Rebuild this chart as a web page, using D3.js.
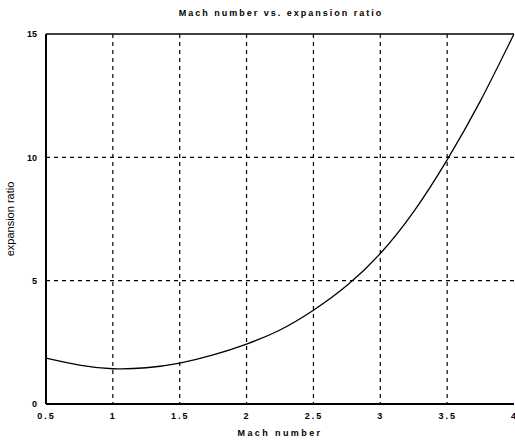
<!DOCTYPE html>
<html>
<head>
<meta charset="utf-8">
<script src="https://cdn.jsdelivr.net/npm/d3@7"></script>
<style>
  body { margin: 0; background: #fff; }
  text { font-family: "Liberation Sans", Arial, sans-serif; fill: #000; }
</style>
</head>
<body>
<svg id="chart" width="515" height="440"></svg>
<script>
// values
var machNumbers = [0.5, 0.75, 1, 1.25, 1.5, 1.75, 2, 2.25, 2.5, 2.75, 3, 3.25, 3.5, 3.75, 4];
var expansionRatios = [1.86, 1.58, 1.43, 1.47, 1.66, 1.99, 2.43, 3.0, 3.8, 4.8, 6.1, 7.8, 9.9, 12.3, 15];
var xTicks = [0.5, 1, 1.5, 2, 2.5, 3, 3.5, 4];
var yTicks = [0, 5, 10, 15];

var svg = d3.select("#chart");
var margin = { left: 46, right: 1, top: 34, bottom: 36 };
var width = 515 - margin.left - margin.right;
var height = 440 - margin.top - margin.bottom;

var x = d3.scaleLinear().domain([0.5, 4]).range([0, width]);
var y = d3.scaleLinear().domain([0, 15]).range([height, 0]);

var g = svg.append("g").attr("transform", "translate(" + margin.left + "," + margin.top + ")");

// grid
g.append("g").selectAll("line").data(xTicks.slice(1, -1)).enter().append("line")
    .attr("x1", function(d) { return x(d); })
    .attr("x2", function(d) { return x(d); })
    .attr("y1", 0).attr("y2", height)
    .attr("stroke", "#000").attr("stroke-width", 1.2)
    .attr("stroke-dasharray", "4,4");
g.append("g").selectAll("line").data(yTicks.slice(1, -1)).enter().append("line")
    .attr("y1", function(d) { return y(d); })
    .attr("y2", function(d) { return y(d); })
    .attr("x1", 0).attr("x2", width)
    .attr("stroke", "#000").attr("stroke-width", 1.2)
    .attr("stroke-dasharray", "4,4");

// axes
var xAxis = d3.axisBottom(x).tickValues(xTicks).tickSize(0).tickPadding(9)
    .tickFormat(function(d) { return String(d); });
var yAxis = d3.axisLeft(y).tickValues(yTicks).tickSize(0).tickPadding(9);

var gx = g.append("g").attr("transform", "translate(0," + height + ")").call(xAxis);
var gy = g.append("g").call(yAxis);
[gx, gy].forEach(function(a) {
    a.select(".domain").remove();
    a.selectAll("text").attr("font-size", 9).attr("font-weight", "bold")
        .attr("font-family", "'Liberation Sans', Arial, sans-serif").attr("fill", "#000");
});
gx.selectAll("text").attr("letter-spacing", "2px");

// frame
g.append("line").attr("x1", 0).attr("x2", width).attr("y1", 0).attr("y2", 0)
    .attr("stroke", "#000").attr("stroke-width", 1.5);
g.append("line").attr("x1", 0).attr("x2", width).attr("y1", height).attr("y2", height)
    .attr("stroke", "#000").attr("stroke-width", 2);
g.append("line").attr("x1", 0).attr("x2", 0).attr("y1", 0).attr("y2", height)
    .attr("stroke", "#000").attr("stroke-width", 2);

// curve
var line = d3.line()
    .x(function(d, i) { return x(machNumbers[i]); })
    .y(function(d) { return y(d); })
    .curve(d3.curveNatural);
g.append("path").datum(expansionRatios)
    .attr("d", line)
    .attr("fill", "none")
    .attr("stroke", "#000")
    .attr("stroke-width", 1.3);

// labels
svg.append("text").attr("x", 281).attr("y", 16).attr("text-anchor", "middle")
    .attr("font-size", 9).attr("font-weight", "bold").attr("letter-spacing", "2px")
    .text("Mach number vs. expansion ratio");
svg.append("text").attr("x", 280).attr("y", 436).attr("text-anchor", "middle")
    .attr("font-size", 9).attr("font-weight", "bold").attr("letter-spacing", "2.4px")
    .text("Mach number");
svg.append("text").attr("transform", "translate(14," + (margin.top + height / 2) + ") rotate(-90)")
    .attr("text-anchor", "middle").attr("font-size", 11).attr("fill", "#000")
    .text("expansion ratio");
</script>
</body>
</html>
